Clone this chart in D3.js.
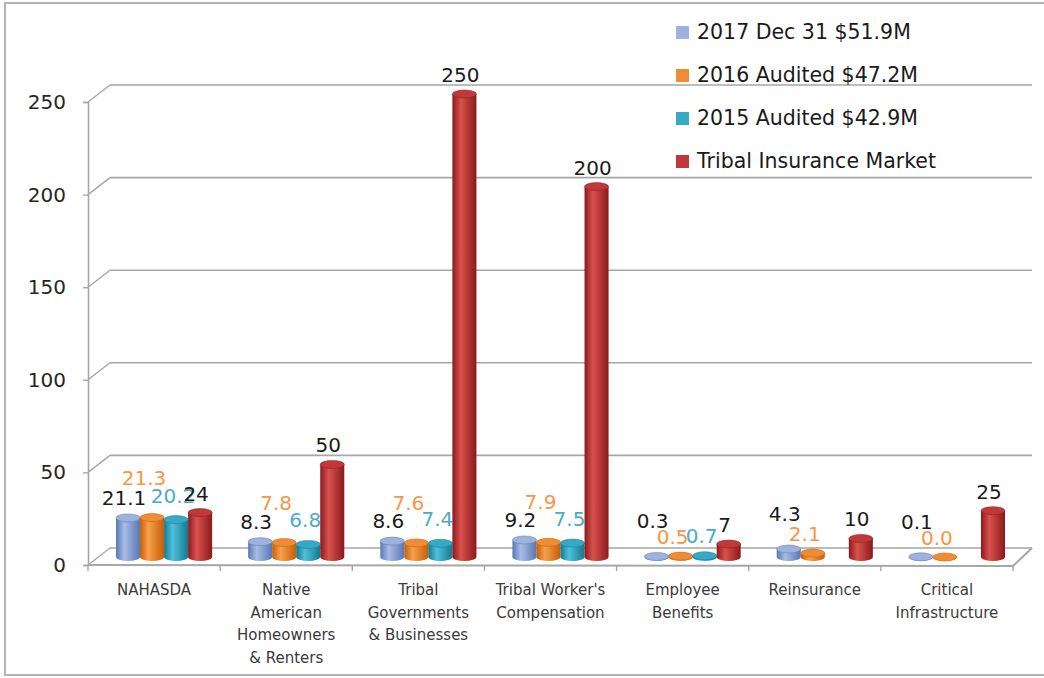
<!DOCTYPE html>
<html>
<head>
<meta charset="utf-8">
<script src="https://cdn.jsdelivr.net/npm/d3@7"></script>
<style>
  body { margin: 0; background: #fff; }
  text { font-family: "DejaVu Sans", sans-serif; }
</style>
</head>
<body>
<script>
const width = 1044;
const height = 678;

// category label lines (as wrapped in the original)
const categories = [
  ["NAHASDA"],
  ["Native", "American", "Homeowners", "& Renters"],
  ["Tribal", "Governments", "& Businesses"],
  ["Tribal Worker's", "Compensation"],
  ["Employee", "Benefits"],
  ["Reinsurance"],
  ["Critical", "Infrastructure"]
];
const seriesNames = ["2017 Dec 31 $51.9M", "2016 Audited $47.2M", "2015 Audited $42.9M", "Tribal Insurance Market"];
const dec2017 = [21.1, 8.3, 8.6, 9.2, 0.3, 4.3, 0.1];
const audited2016 = [21.3, 7.8, 7.6, 7.9, 0.5, 2.1, 0.0];
const audited2015 = [20.2, 6.8, 7.4, 7.5, 0.7, null, null];
const market = [24, 50, 250, 200, 7, 10, 25];
const yTicks = [0, 50, 100, 150, 200, 250];

// look of each series: gradient stops, top cap, label colour
const seriesStyle = [
  { dark: "#5a77b3", light: "#a8bde6", top: "#9db3de", label: "#1a1a1a", dx: -4, dy: -13, dySmall: -28 },
  { dark: "#c45f08", light: "#f8a04c", top: "#ef8c35", label: "#f79646", dx: -8, dy: -33, dySmall: -12 },
  { dark: "#15788f", light: "#4fc0dc", top: "#36a9c6", label: "#4bacc6", dx: -3, dy: -17, dySmall: -13 },
  { dark: "#8a1a1c", light: "#d9514d", top: "#c0383a", label: "#1a1a1a", dx: -4, dy: -12, dySmall: -12 }
];

const allSeries = [dec2017, audited2016, audited2015, market];
const data = allSeries.map((vals, s) => vals.map((v, i) => ({ s, i, v })));

const depth = { dx: 22, dy: -17 };      // back wall offset
const barShift = { dx: 10, dy: -8 };    // bars stand mid-floor

const svg = d3.select('body').append('svg')
  .attr('width', width)
  .attr('height', height);

// outer frame
svg.append('rect')
  .attr('x', 5).attr('y', 3)
  .attr('width', width + 20).attr('height', 672)
  .attr('fill', 'none')
  .attr('stroke', '#b4b4b4')
  .attr('stroke-width', 2);

// SCALES
const xScale = d3.scaleBand()
  .domain(d3.range(categories.length))
  .range([88, 1013]);

const inner = d3.scaleBand()
  .domain(d3.range(seriesNames.length))
  .range([18, xScale.bandwidth() - 18]);

const yScale = d3.scaleLinear()
  .domain([0, 250])
  .range([565, 102]);

// gradients
const defs = svg.append('defs');
seriesStyle.forEach((st, s) => {
  const g = defs.append('linearGradient').attr('id', 'grad' + s)
    .attr('x1', 0).attr('x2', 1).attr('y1', 0).attr('y2', 0);
  g.append('stop').attr('offset', '0%').attr('stop-color', st.dark);
  g.append('stop').attr('offset', '35%').attr('stop-color', st.light);
  g.append('stop').attr('offset', '100%').attr('stop-color', st.dark);
});

const gridColor = '#a6a6a6';
const x0 = xScale.range()[0], x1 = xScale.range()[1];

// back wall gridlines + left wall diagonals
const grid = svg.append('g');
yTicks.forEach(t => {
  const y = yScale(t);
  grid.append('line')
    .attr('x1', x0 + depth.dx).attr('x2', x1 + 19)
    .attr('y1', y + depth.dy).attr('y2', y + depth.dy)
    .attr('stroke', gridColor).attr('stroke-width', 1.6);
  grid.append('line')
    .attr('x1', x0).attr('x2', x0 + depth.dx)
    .attr('y1', y).attr('y2', y + depth.dy)
    .attr('stroke', gridColor).attr('stroke-width', 1.4);
});

// floor front and right edges
grid.append('path')
  .attr('d', `M${x0},${yScale(0)}L${x1},${yScale(0) + 1}L${x1 + 19},${yScale(0) + depth.dy}`)
  .attr('fill', 'none').attr('stroke', gridColor).attr('stroke-width', 2);

// AXES
const yAxis = d3.axisLeft(yScale)
  .tickValues(yTicks)
  .tickSize(5)
  .tickPadding(17);

svg.append('g')
  .attr('transform', `translate(${x0}, 0)`)
  .call(yAxis)
  .call(g => g.selectAll('.domain').attr('stroke', gridColor).attr('stroke-width', 1.6))
  .call(g => g.selectAll('.tick line').attr('stroke', gridColor).attr('stroke-width', 1.4))
  .call(g => g.selectAll('.tick text')
    .attr('font-size', 20)
    .attr('fill', '#262626')
    .attr('font-family', '"DejaVu Sans", sans-serif'));

// category ticks
svg.append('g').selectAll('line')
  .data(d3.range(categories.length + 1))
  .join('line')
  .attr('x1', i => x0 + i * xScale.step())
  .attr('x2', i => x0 + i * xScale.step())
  .attr('y1', yScale(0) + 1).attr('y2', yScale(0) + 6)
  .attr('stroke', gridColor).attr('stroke-width', 1.4);

// category labels
svg.append('g').selectAll('text')
  .data(categories)
  .join('text')
  .attr('x', (d, i) => xScale(i) + xScale.bandwidth() / 2)
  .attr('y', 595)
  .attr('text-anchor', 'middle')
  .attr('font-size', 15)
  .attr('fill', '#3a3a3a')
  .selectAll('tspan')
  .data(d => d)
  .join('tspan')
  .attr('x', function () { return this.parentNode.getAttribute('x'); })
  .attr('dy', (d, j) => j === 0 ? 0 : 22.5)
  .text(d => d);

// CYLINDERS
const rx = inner.bandwidth() / 2;
const ry = 4;
const barCx = d => xScale(d.i) + inner(d.s) + rx + barShift.dx;
const barTop = d => yScale(d.v) + barShift.dy;
const barBase = yScale(0) + barShift.dy;

const bars = svg.append('g').selectAll('g.bar')
  .data(data.flat().filter(d => d.v !== null))
  .join('g')
  .classed('bar', true);

bars.append('path')
  .attr('d', d => {
    const cx = barCx(d), yt = barTop(d);
    return `M${cx - rx},${yt}L${cx - rx},${barBase}` +
      `A${rx},${ry} 0 0 0 ${cx + rx},${barBase}L${cx + rx},${yt}Z`;
  })
  .attr('fill', d => `url(#grad${d.s})`);

bars.append('ellipse')
  .attr('cx', barCx)
  .attr('cy', barTop)
  .attr('rx', rx)
  .attr('ry', ry)
  .attr('fill', d => seriesStyle[d.s].top)
  .attr('stroke', d => seriesStyle[d.s].dark)
  .attr('stroke-width', 0.5);

// VALUE LABELS
svg.append('g').selectAll('text')
  .data(data.flat().filter(d => d.v !== null))
  .join('text')
  .attr('x', d => barCx(d) + seriesStyle[d.s].dx)
  .attr('y', d => barTop(d) + (d.v < 5 && d.s < 3 ? seriesStyle[d.s].dySmall : seriesStyle[d.s].dy))
  .attr('text-anchor', 'middle')
  .attr('font-size', 20)
  .attr('fill', d => seriesStyle[d.s].label)
  .text(d => d.s === 3 ? d3.format('d')(d.v) : d3.format('.1f')(d.v));

// LEGEND
const legend = svg.append('g').selectAll('g')
  .data(seriesNames)
  .join('g')
  .attr('transform', (d, i) => `translate(676, ${32 + i * 43})`);

legend.append('rect')
  .attr('x', 0).attr('y', -6)
  .attr('width', 13).attr('height', 13)
  .attr('fill', (d, i) => seriesStyle[i].top);

legend.append('text')
  .attr('x', 21)
  .attr('y', 7)
  .attr('font-size', 20.5)
  .attr('fill', '#1a1a1a')
  .text(d => d);
</script>
</body>
</html>
